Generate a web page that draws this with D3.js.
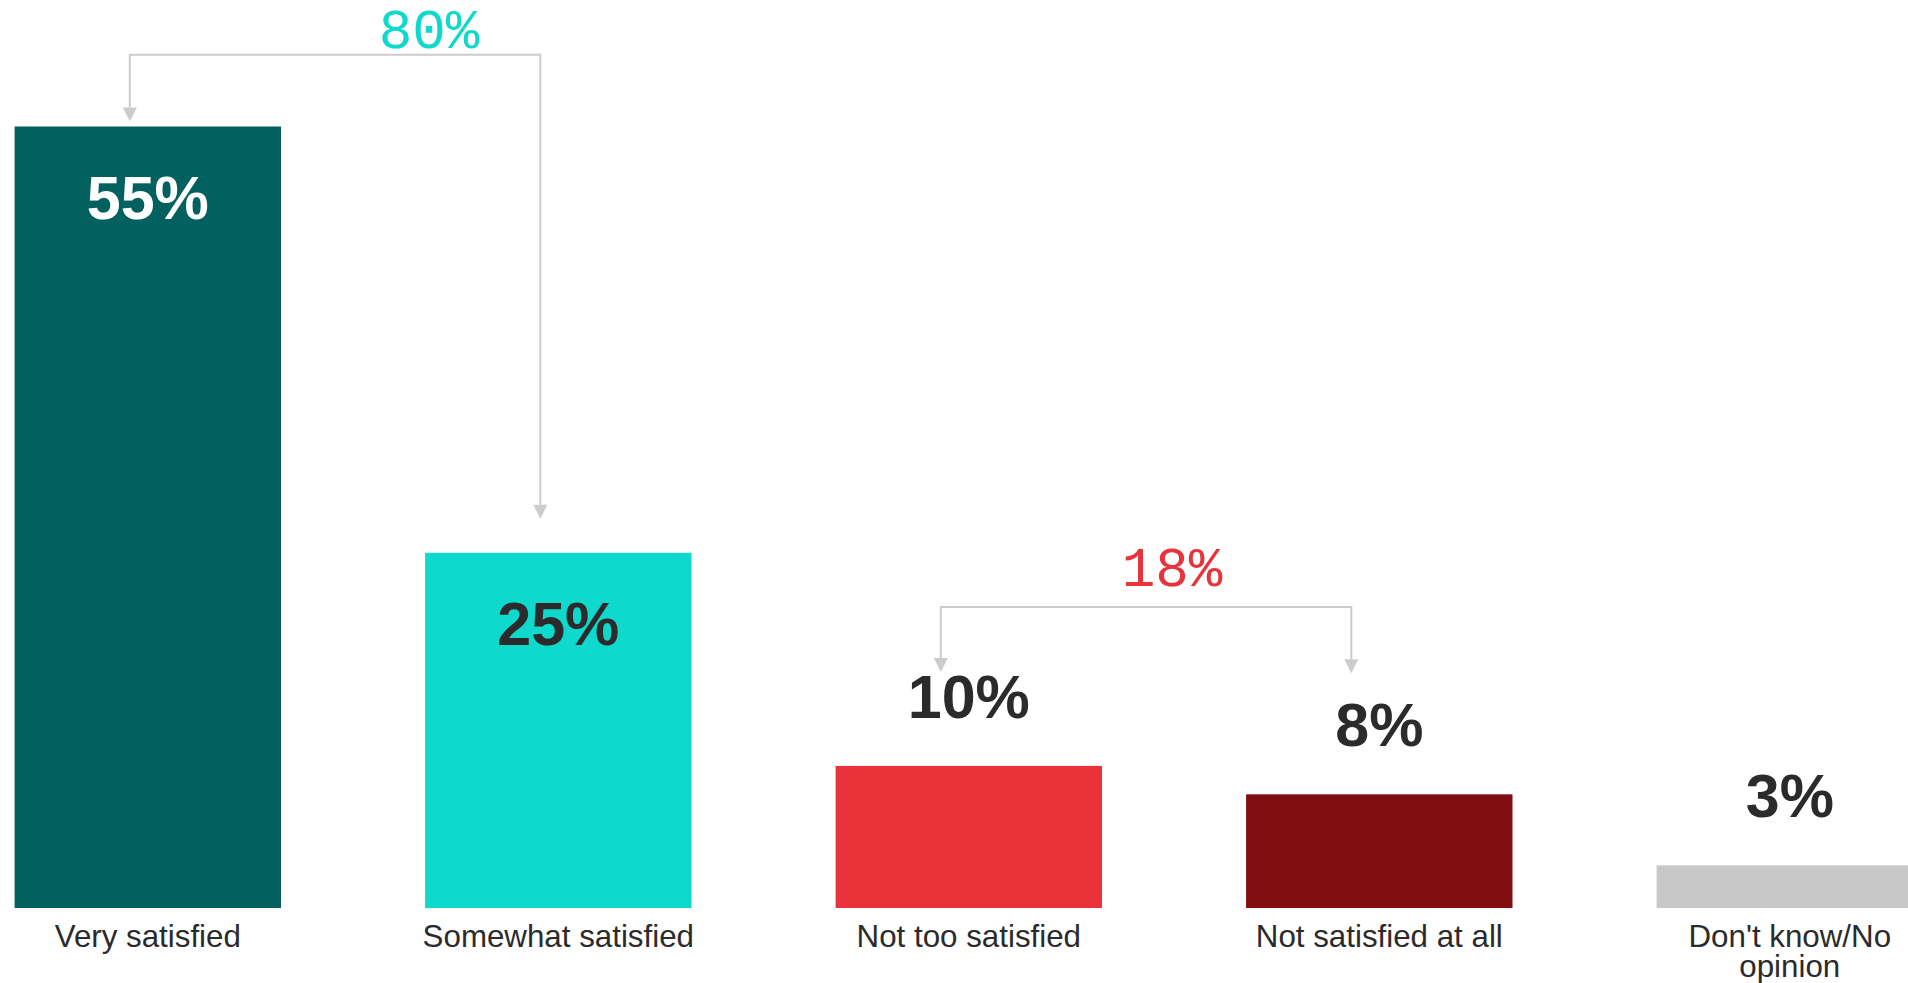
<!DOCTYPE html>
<html>
<head>
<meta charset="utf-8">
<script src="https://cdn.jsdelivr.net/npm/d3@7"></script>
<style>
  body { margin: 0; background: #fff; }
  svg { display: block; }
</style>
</head>
<body>
<svg width="1908" height="983"></svg>
<script>
// data
const categories = ['Very satisfied', 'Somewhat satisfied', 'Not too satisfied', 'Not satisfied at all', "Don't know/No opinion"];
const values = [55, 25, 10, 8, 3];
const colors = ['#02605f', '#0fd8cc', '#e9323a', '#800e10', '#c8c8c8'];
// net brackets: which bars they join, the total, its colour
const netPairs = [[0, 1], [2, 3]];
const netTotals = [80, 18];
const netColors = ['#0fd8cc', '#e9323a'];

const svg = d3.select('svg');
const inkColor = '#2b2b2b';

const x = d3.scaleBand()
  .domain(categories)
  .range([14.6, 1923])
  .paddingInner(0.351)
  .paddingOuter(0);

const y = d3.scaleLinear()
  .domain([0, 55])
  .range([908, 126.5]);

// bars
svg.append('g')
  .selectAll('rect')
  .data(values)
  .join('rect')
  .attr('x', (d, i) => x(categories[i]))
  .attr('y', d => y(d))
  .attr('width', x.bandwidth())
  .attr('height', d => y(0) - y(d))
  .attr('fill', (d, i) => colors[i]);

// value labels, inside big bars, above small ones
svg.append('g')
  .selectAll('text')
  .data(values)
  .join('text')
  .attr('x', (d, i) => x(categories[i]) + x.bandwidth() / 2)
  .attr('y', d => d >= 20 ? y(d) + 92 : y(d) - 48)
  .attr('text-anchor', 'middle')
  .style('font-family', '"Liberation Sans", Arial, sans-serif')
  .style('font-weight', 'bold')
  .style('font-size', '61px')
  .style('fill', (d, i) => i === 0 ? '#ffffff' : inkColor)
  .text(d => d + '%');

// category labels (wrapped)
function wrap(text, w) {
  text.each(function() {
    const t = d3.select(this);
    const words = t.text().split(/\s+/);
    const x0 = t.attr('x');
    t.text(null);
    let line = [];
    let tspan = t.append('tspan').attr('x', x0).attr('dy', 0);
    words.forEach(word => {
      line.push(word);
      tspan.text(line.join(' '));
      if (tspan.node().getComputedTextLength() > w && line.length > 1) {
        line.pop();
        tspan.text(line.join(' '));
        line = [word];
        tspan = t.append('tspan').attr('x', x0).attr('dy', '0.97em').text(word);
      }
    });
  });
}

svg.append('g')
  .selectAll('text')
  .data(categories)
  .join('text')
  .attr('x', d => x(d) + x.bandwidth() / 2)
  .attr('y', 947)
  .attr('text-anchor', 'middle')
  .style('font-family', '"Liberation Sans", Arial, sans-serif')
  .style('font-size', '31.3px')
  .style('fill', inkColor)
  .text(d => d)
  .call(wrap, x.bandwidth() + 20);

// net brackets
const bracketY = [54.8, 607];
const tipGap = [[5, 34], [94, 121]];
const labelShift = [94, 26];
const labelLift = [7, 21];
const armOffset = [-18, -28];

netPairs.forEach((pair, k) => {
  const g = svg.append('g');
  const xa = x(categories[pair[0]]) + x.bandwidth() / 2 + armOffset[k];
  const xb = x(categories[pair[1]]) + x.bandwidth() / 2 + armOffset[k];
  const ya = y(values[pair[0]]) - tipGap[k][0];
  const yb = y(values[pair[1]]) - tipGap[k][1];
  const by = bracketY[k];
  const ah = 14;

  g.append('path')
    .attr('d', `M ${xa} ${ya - ah} L ${xa} ${by} L ${xb} ${by} L ${xb} ${yb - ah}`)
    .attr('fill', 'none')
    .style('stroke', '#cccccc')
    .style('stroke-width', 2);

  [[xa, ya], [xb, yb]].forEach(([px, py]) => {
    g.append('path')
      .attr('d', `M ${px - 7} ${py - ah} L ${px + 7} ${py - ah} L ${px} ${py} Z`)
      .attr('fill', '#cccccc');
  });

  g.append('text')
    .attr('x', (xa + xb) / 2 + labelShift[k])
    .attr('y', by - labelLift[k])
    .attr('text-anchor', 'middle')
    .style('font-family', '"Liberation Mono", monospace')
    .style('font-size', '56px')
    .style('fill', netColors[k])
    .text(netTotals[k] + '%');
});
</script>
</body>
</html>
